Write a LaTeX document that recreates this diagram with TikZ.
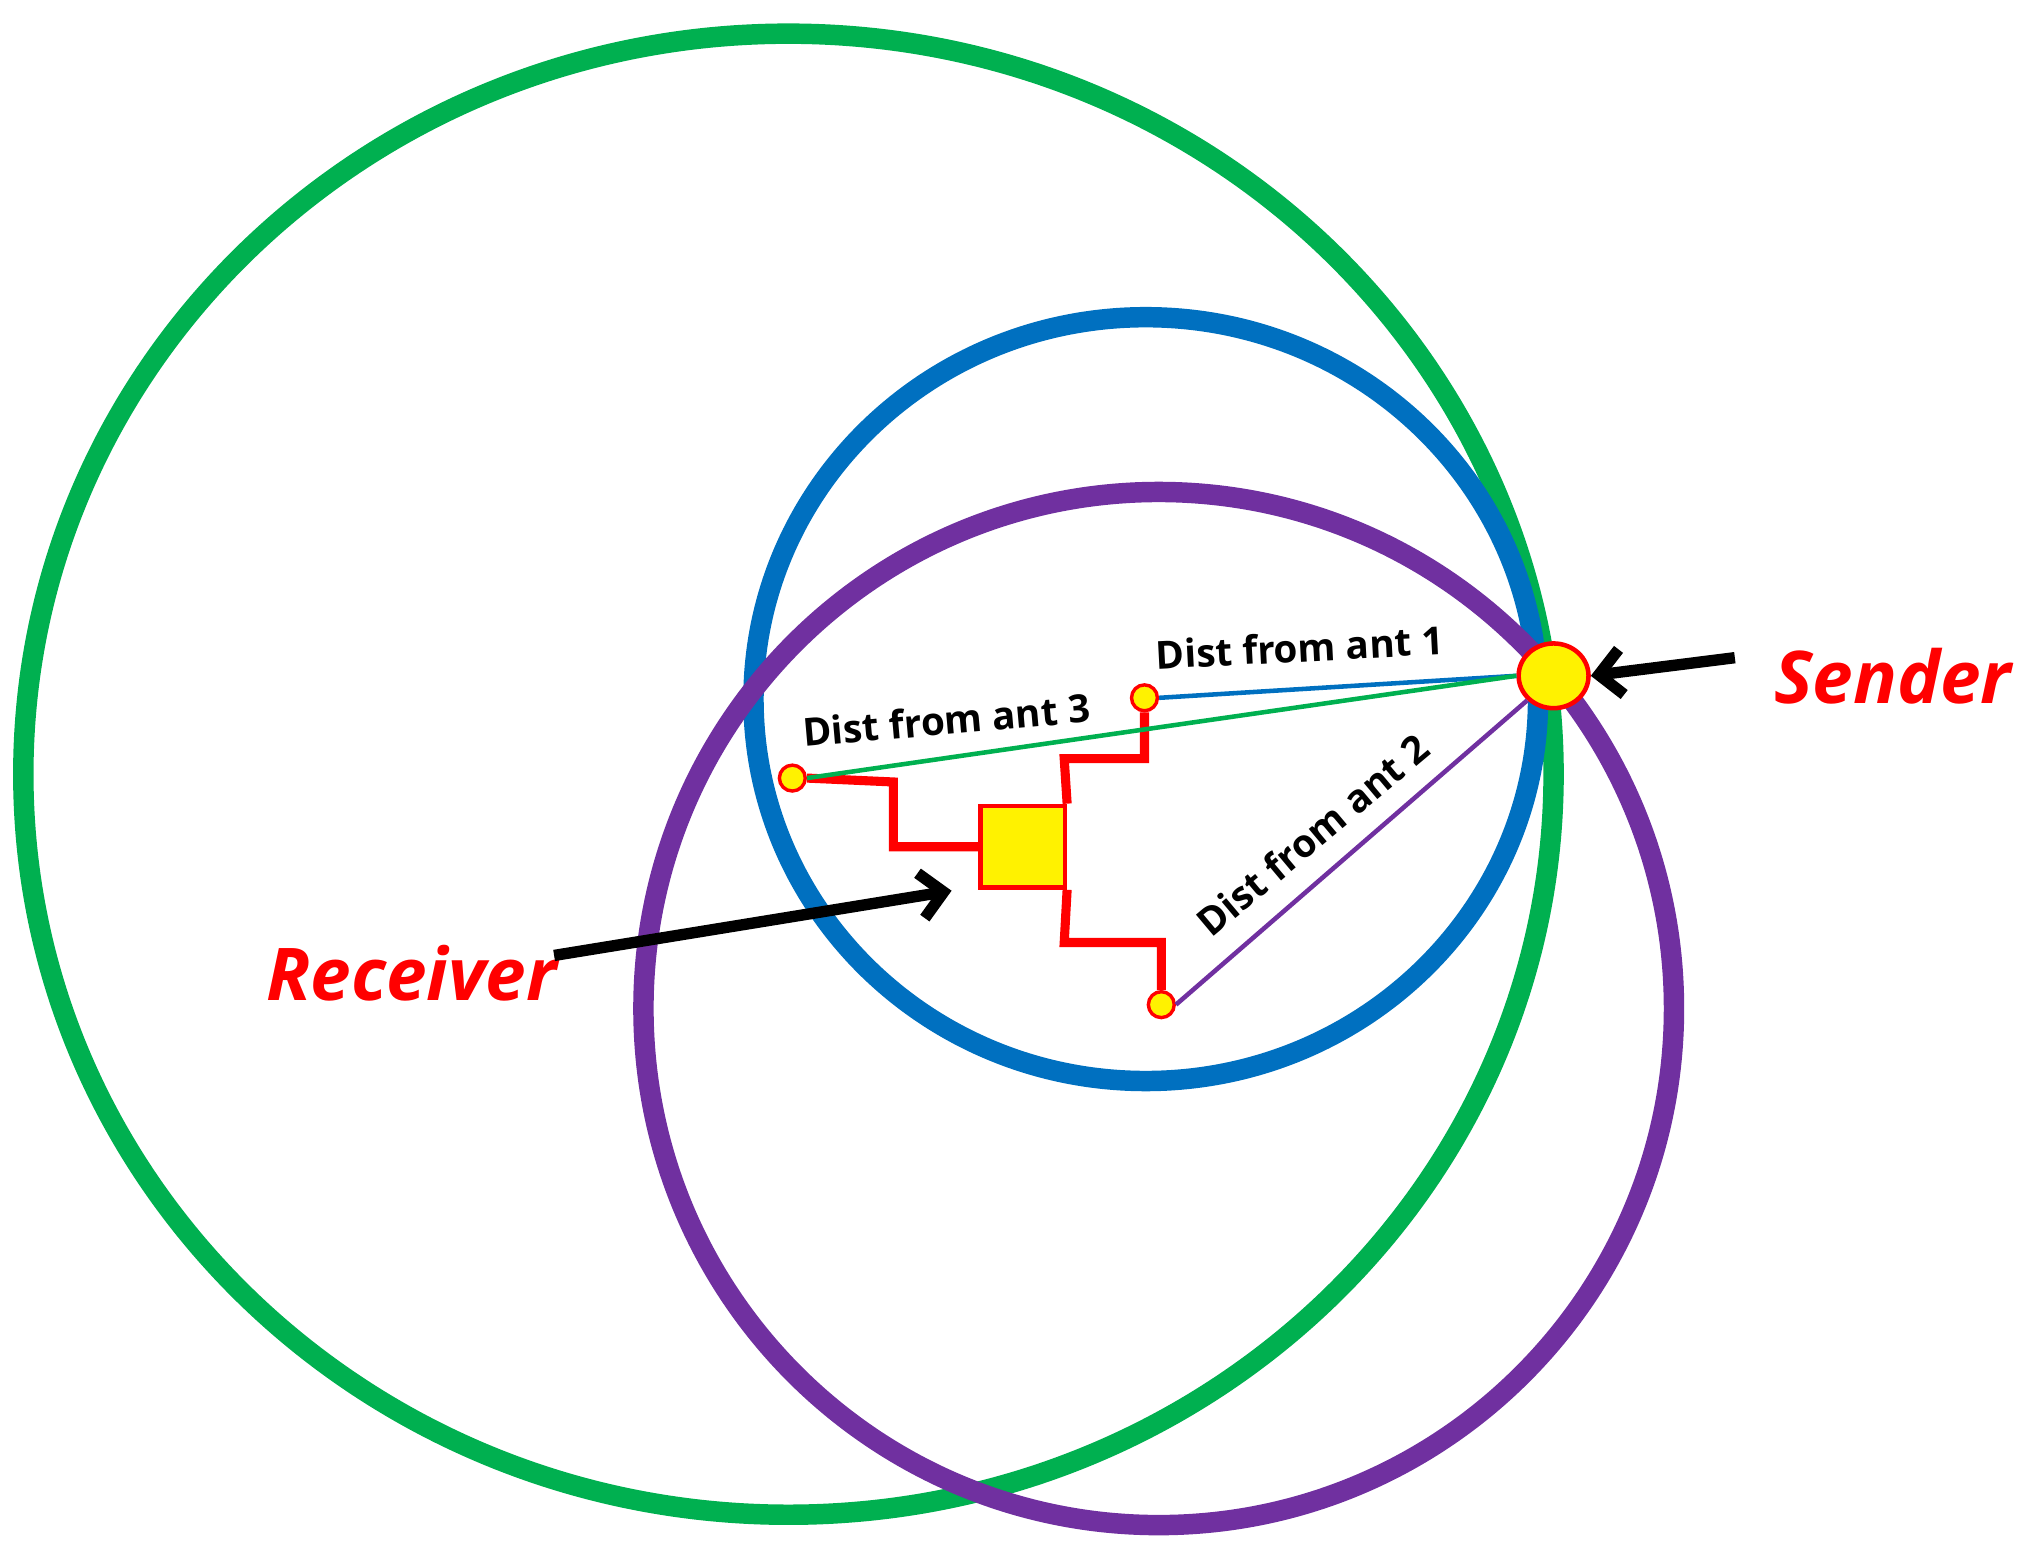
\documentclass[tikz,border=0pt]{standalone}
\usepackage{fontspec}
\setmainfont{Open Sans}
\usetikzlibrary{arrows.meta,shapes.geometric}
\begin{document}
\begin{tikzpicture}[x=0.02cm,y=-0.02cm,
  ring/.style={line width=9pt},
  ant/.style={circle,draw=red,fill=yellow,line width=1.5pt,minimum size=20*0.02cm,inner sep=0},
  wire/.style={red,line width=4pt},
  lbl/.style={font=\bfseries\fontsize{17}{17}\selectfont},
  big/.style={red,font=\bfseries\itshape\fontsize{32}{32}\selectfont},
  arr/.style={line width=5pt,-{Straight Barb[length=10pt,width=20pt]}}]
\useasboundingbox (0,0) rectangle (1568,1203);
\definecolor{gr}{RGB}{0,176,80}
\definecolor{bl}{RGB}{0,112,192}
\definecolor{pu}{RGB}{112,48,160}
\draw[ring,gr] (609,598) ellipse [x radius=591,y radius=572];
\draw[ring,bl] (885,540) ellipse [x radius=303,y radius=295];
\draw[ring,pu] (895,779) ellipse [x radius=398,y radius=399];
\node[ant] (a1) at (884,539) {};
\node[ant] (a3) at (612,601) {};
\node[ant] (a2) at (897,776) {};
\node[draw=red,fill=yellow,line width=2pt,minimum width=65*0.02cm,minimum height=63*0.02cm,inner sep=0] (rx) at (790,654) {};
\node[ellipse,draw=red,fill=yellow,line width=2pt,minimum width=54*0.02cm,minimum height=50*0.02cm,inner sep=0] (s) at (1200,522) {};
\draw[wire] (a3.east) -- (690,604) -- (690,654) -- (rx.west);
\draw[wire] (a1.south) -- (884,586) -- (822,586) -- (rx.north east);
\draw[wire] (a2.north) -- (897,728) -- (822,728) -- (rx.south east);
\draw[bl,line width=2pt] (s.west) -- (a1.east);
\draw[gr,line width=2pt] (s.west) -- (a3.east);
\draw[pu,line width=2pt] (s.south west) -- (a2.east);
\node[lbl,rotate=3] at (1004,500) {Dist from ant 1};
\node[lbl,rotate=5] at (731,556) {Dist from ant 3};
\node[lbl,rotate=40] at (1014,645) {Dist from ant 2};
\node[big] (st) at (1462,522) {Sender};
\node[big] (rt) at (318,752) {Receiver};
\coordinate (sa) at (1340,508);
\coordinate (ra) at (428,738);
\coordinate (re) at (735,688);
\draw[arr] (sa) -- (s.east);
\draw[arr] (ra) -- (re);
\end{tikzpicture}
\end{document}
